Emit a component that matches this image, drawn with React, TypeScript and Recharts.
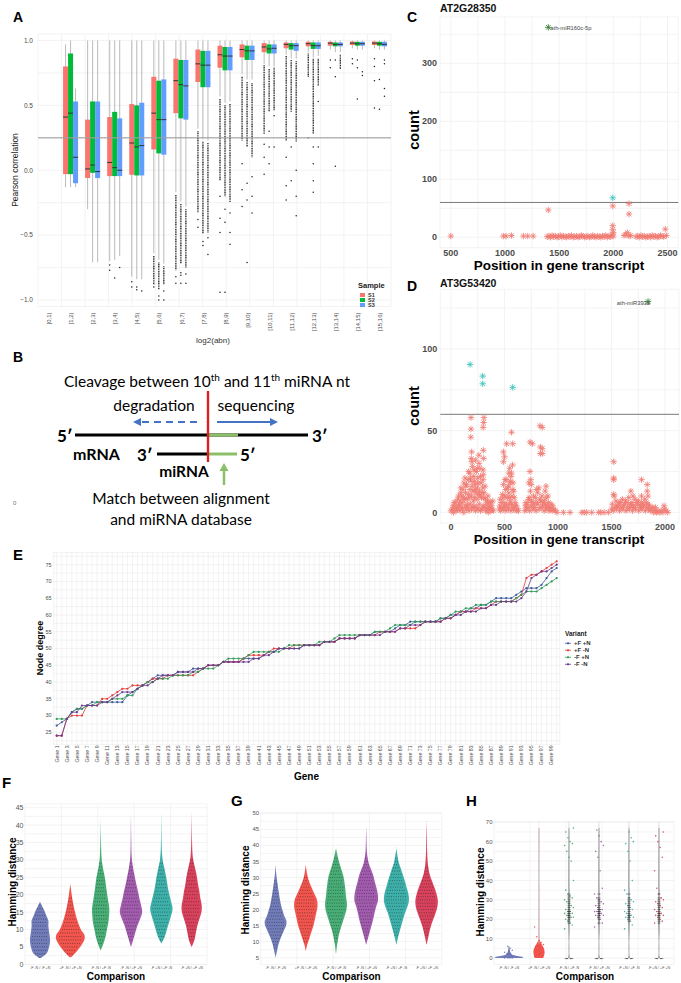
import React from 'react';
import {
  ComposedChart, BarChart, LineChart, ScatterChart,
  Bar, Line, Scatter, XAxis, YAxis, CartesianGrid, ReferenceLine,
} from 'recharts';

const FONT = '"Liberation Sans", Arial, Helvetica, sans-serif';
const DIAG_FONT = 'Lato, "Liberation Sans", Arial, sans-serif';
const GRID = '#ebebeb';
const TICK = '#4d4d4d';

// ================= Panel A data =================
const abnBins = ['[0,1)', '[1,2)', '[2,3)', '[3,4)', '[4,5)', '[5,6)', '[6,7)', '[7,8)', '[8,9)', '[9,10)', '[10,11)', '[11,12)', '[12,13)', '[13,14)', '[14,15)', '[15,16)'];
const sampleNames = ['S1', 'S2', 'S3'];
const sampleColors = ['#F8766D', '#00BA38', '#619CFF'];

const s1Lo = [null, -0.13, -0.30, -0.70, -0.82, -0.64, -0.17, 0.32, 0.57, 0.74, 0.82, 0.89, 0.91, 0.93, 0.94, 0.94];
const s1Q1 = [null, -0.03, -0.06, -0.045, -0.035, 0.16, 0.44, 0.68, 0.79, 0.87, 0.91, 0.94, 0.955, 0.96, 0.965, 0.965];
const s1Med = [null, 0.41, 0.01, 0.06, 0.21, 0.44, 0.69, 0.82, 0.89, 0.93, 0.95, 0.97, 0.975, 0.98, 0.98, 0.98];
const s1Q3 = [null, 0.80, 0.39, 0.41, 0.51, 0.72, 0.86, 0.93, 0.96, 0.97, 0.98, 0.985, 0.99, 0.99, 0.992, 0.992];
const s1Hi = [null, 0.97, 1, 1, 1, 1, 1, 1, 1, 1, 1, 1, 1, 1, 1, 1];
const s1Dense = [null, null, null, null, null, [-0.66, -0.88], [-0.19, -0.77], [0.30, -0.33], [0.55, -0.08], [0.72, 0.23], [0.81, 0.28], [0.88, 0.23], [0.90, 0.72], null, null, null];
const s1Sparse = [[], [], [], [-0.73, -0.77], [-0.86, -0.9], [-0.9], [-0.82, -0.87], [-0.38, -0.44], [-0.2, -0.37, -0.48, -0.94], [0.05, -0.15, -0.28], [0.2, 0.1, -0.03], [0.1, -0.12, -0.23], [0.25], [0.85, 0.79], [0.86, 0.82], [0.86, 0.8, 0.69, 0.48]];

const s2Lo = [null, -0.13, -0.71, -0.69, -0.84, -0.69, -0.24, 0.24, 0.52, 0.70, 0.80, 0.86, 0.87, 0.91, 0.93, 0.93];
const s2Q1 = [null, -0.03, -0.02, -0.045, -0.04, 0.13, 0.40, 0.64, 0.77, 0.85, 0.90, 0.93, 0.935, 0.955, 0.96, 0.96];
const s2Med = [null, 0.44, 0.04, 0.02, 0.18, 0.39, 0.66, 0.81, 0.88, 0.92, 0.935, 0.96, 0.96, 0.97, 0.975, 0.975];
const s2Q3 = [null, 0.90, 0.53, 0.45, 0.50, 0.69, 0.85, 0.92, 0.95, 0.96, 0.97, 0.98, 0.985, 0.985, 0.99, 0.99];
const s2Hi = [null, 1, 1, 1, 1, 1, 1, 1, 1, 1, 1, 1, 1, 1, 1, 1];
const s2Dense = [null, null, null, null, null, [-0.71, -0.92], [-0.26, -0.72], [0.22, -0.49], [0.50, -0.2], [0.68, 0.18], [0.78, 0.45], [0.85, 0.45], [0.86, 0.28], null, null, null];
const s2Sparse = [[], [], [], [-0.83], [-0.9, -0.92], [-0.97, -1.0], [-0.79, -0.81, -0.87], [-0.55, -0.58], [-0.3, -0.4, -0.94], [-0.1, -0.23, -0.71], [0.3, 0.18, 0.05], [0.18, -0.08], [0.18, 0.05, -0.08, -0.17], [0.85, 0.72, 0.03], [0.85, 0.79, 0.55], [0.7, 0.47]];

const s3Lo = [null, -0.13, -0.71, -0.66, -0.84, -0.72, -0.28, 0.23, 0.53, 0.70, 0.80, 0.86, 0.88, 0.91, 0.93, 0.93];
const s3Q1 = [null, -0.10, -0.06, -0.045, -0.04, 0.12, 0.39, 0.64, 0.77, 0.85, 0.90, 0.92, 0.935, 0.955, 0.96, 0.955];
const s3Med = [null, 0.10, -0.01, 0.0, 0.19, 0.39, 0.65, 0.81, 0.88, 0.92, 0.94, 0.96, 0.96, 0.97, 0.975, 0.97];
const s3Q3 = [null, 0.53, 0.53, 0.40, 0.52, 0.70, 0.85, 0.92, 0.95, 0.96, 0.97, 0.98, 0.985, 0.985, 0.99, 0.99];
const s3Hi = [null, 0.63, 1, 1, 1, 1, 1, 1, 1, 1, 1, 1, 1, 1, 1, 1];
const s3Dense = [null, null, null, null, null, [-0.74, -0.88], [-0.30, -0.75], [0.21, -0.48], [0.51, -0.25], [0.67, 0.10], [0.79, 0.46], [0.84, 0.22], [0.86, 0.65], [0.89, 0.78], null, null];
const s3Sparse = [[], [], [], [-0.75], [-0.93], [-0.93, -1.0], [-0.8, -0.87], [-0.52, -0.65], [-0.33, -0.48, -0.57], [-0.05, -0.2, -0.33], [0.42, 0.18], [0.0, -0.2, -0.35], [0.53, 0.18], [], [0.76, 0.73], [0.85, 0.82, 0.63, 0.57]];

const aYTicks = [-1, -0.75, -0.5, -0.25, 0, 0.25, 0.5, 0.75, 1];
const aYMajor = [-1, -0.5, 0, 0.5, 1];

const statOf = (lo: any[], q1: any[], med: any[], q3: any[], hi: any[], dense: any[], sparse: any[], i: number) =>
  lo[i] == null ? null : { lo: lo[i], q1: q1[i], med: med[i], q3: q3[i], hi: hi[i], dense: dense[i], sparse: sparse[i] };

const aData = abnBins.map((bin, i) => ({
  bin,
  stats: [
    statOf(s1Lo, s1Q1, s1Med, s1Q3, s1Hi, s1Dense, s1Sparse, i),
    statOf(s2Lo, s2Q1, s2Med, s2Q3, s2Hi, s2Dense, s2Sparse, i),
    statOf(s3Lo, s3Q1, s3Med, s3Q3, s3Hi, s3Dense, s3Sparse, i),
  ],
}));

// ================= Panel C data =================
const cPink: number[][] = [
  [500, 2], [985, 2], [1010, 2], [1060, 3], [1170, 2], [1210, 2], [1260, 2],
  [1390, 1], [1405, 2], [1420, 0], [1435, 3], [1450, 1], [1465, 2], [1480, 0], [1495, 1], [1510, 3], [1525, 0],
  [1540, 2], [1555, 1], [1570, 0], [1585, 2], [1600, 1], [1615, 3], [1630, 0], [1645, 1], [1660, 2], [1675, 0],
  [1690, 1], [1705, 3], [1720, 2], [1735, 0], [1750, 1], [1765, 2], [1780, 0], [1795, 1], [1810, 3], [1825, 1],
  [1840, 0], [1855, 2], [1870, 1], [1885, 0], [1900, 2], [1915, 1], [1930, 3], [1945, 0], [1960, 2], [1975, 1],
  [1990, 4], [2000, 2], [2100, 3], [2115, 5], [2130, 8], [2145, 2], [2160, 3], [2210, 1], [2225, 2], [2240, 0],
  [2255, 3], [2270, 1], [2285, 2], [2300, 0], [2315, 1], [2330, 2], [2345, 0], [2360, 3], [2375, 1], [2390, 2],
  [2405, 0], [2420, 1], [2435, 3], [2450, 2], [2465, 1], [2490, 3],
  [1400, 47], [1995, 54], [1995, 20], [1995, 13], [2000, 8], [2145, 58], [2145, 40], [2480, 14],
];
const cCyan: number[][] = [[1995, 68]];
const cGreen: number[][] = [[1400, 362]];
const cGreenLabel = 'ath-miR160c-5p';

// ================= Panel D data =================
const dPink: number[][] = [
  [0, 1], [12, 2], [24, 0], [36, 3], [48, 1], [60, 2], [72, 4], [84, 1], [96, 3], [108, 2], [120, 0], [132, 4],
  [144, 2], [156, 3], [168, 1], [180, 5], [192, 2], [204, 3], [216, 4], [228, 1], [240, 3], [252, 2], [264, 5],
  [276, 1], [288, 2], [300, 4], [312, 3], [324, 1], [336, 2], [348, 0], [360, 3], [372, 1], [384, 2], [396, 1],
  [40, 6], [62, 8], [85, 7], [100, 10], [118, 9], [135, 12], [150, 8], [165, 11], [178, 14], [190, 10], [205, 13],
  [218, 9], [232, 12], [246, 15], [258, 11], [272, 10], [290, 12], [305, 9], [322, 8], [340, 7], [358, 6],
  [92, 15], [120, 18], [140, 16], [160, 20], [175, 24], [188, 19], [200, 28], [212, 22], [225, 17], [238, 25],
  [250, 21], [262, 30], [280, 18], [300, 20], [318, 16],
  [20, 4], [30, 6], [55, 3], [70, 10], [78, 5], [90, 12], [105, 6], [112, 14], [128, 8], [145, 17], [152, 5],
  [170, 9], [182, 21], [196, 16], [208, 7], [220, 19], [228, 14], [244, 8], [254, 18], [266, 13], [276, 22],
  [285, 9], [296, 15], [310, 12], [330, 5], [345, 10], [352, 3], [368, 6], [380, 4], [390, 7], [215, 26],
  [245, 27], [195, 31], [270, 27], [165, 25], [130, 21],
  [187, 58], [187, 51], [185, 46], [193, 37], [190, 33], [308, 58], [305, 55], [300, 52], [302, 38], [305, 33],
  [300, 26], [302, 23], [230, 32], [260, 35],
  [452, 2], [464, 1], [476, 3], [488, 2], [500, 4], [512, 1], [524, 3], [536, 2], [548, 5], [560, 1], [572, 3],
  [584, 2], [596, 4], [608, 1], [620, 2], [630, 1],
  [460, 8], [480, 11], [495, 6], [510, 14], [525, 9], [540, 12], [555, 7], [570, 10], [585, 13], [600, 6],
  [490, 17], [515, 20], [535, 16], [560, 22], [580, 18],
  [456, 4], [470, 6], [485, 9], [505, 10], [518, 5], [530, 15], [545, 9], [552, 18], [566, 5], [578, 14],
  [592, 9], [612, 4], [505, 20], [548, 27],
  [565, 49], [520, 42], [576, 42], [490, 37], [500, 34], [490, 31], [575, 29], [540, 24], [565, 24], [555, 19],
  [690, 1], [705, 2], [720, 3], [735, 1], [750, 4], [765, 2], [780, 3], [795, 1], [810, 5], [825, 2], [840, 3],
  [855, 4], [870, 1], [885, 2], [900, 3], [915, 1], [930, 2], [945, 1], [960, 2], [975, 1], [990, 0],
  [700, 6], [725, 8], [750, 7], [770, 10], [790, 9], [810, 12], [830, 8], [850, 10], [870, 7], [890, 9], [910, 6], [935, 5],
  [695, 4], [712, 5], [730, 9], [742, 13], [758, 6], [775, 5], [800, 6], [820, 15], [840, 7], [860, 6],
  [878, 5], [895, 4], [920, 3], [950, 4], [728, 18], [800, 14],
  [832, 53], [835, 40], [835, 36], [738, 43], [738, 25], [745, 20], [750, 17], [888, 16], [880, 13], [905, 10],
  [760, 42], [853, 52], [853, 39], [853, 36],
  [1050, 0], [1112, 0], [1222, 0], [1245, 0], [1268, 0], [1315, 0], [1380, 0], [1400, 0], [1430, 0], [1470, 0],
  [1500, 2], [1515, 1], [1530, 3], [1545, 2], [1560, 4], [1575, 1], [1590, 3], [1605, 2], [1620, 5], [1635, 1],
  [1650, 3], [1665, 2], [1680, 4], [1695, 1], [1710, 3], [1725, 2], [1740, 5], [1755, 1], [1770, 3], [1785, 2],
  [1800, 4], [1815, 1], [1830, 3], [1845, 2], [1860, 1], [1875, 2], [1890, 0], [1905, 1], [1920, 0], [1935, 1],
  [1950, 0], [1965, 1], [1980, 0], [1995, 2], [2010, 1], [2025, 0],
  [1540, 7], [1570, 6], [1600, 8], [1630, 7], [1660, 9], [1690, 6], [1720, 8], [1750, 7], [1780, 6], [1810, 8], [1840, 5],
  [1508, 5], [1552, 4], [1582, 6], [1612, 4], [1645, 6], [1675, 5], [1705, 4], [1735, 6], [1765, 4], [1795, 5],
  [1825, 6], [1855, 4], [1885, 3], [1910, 3], [1990, 4],
  [1520, 31], [1520, 21], [1520, 20], [1520, 11], [1525, 10], [1780, 20], [1833, 17], [1833, 13], [1840, 10],
  [1680, 13], [1700, 10], [1780, 10],
];
const dCyan: number[][] = [[178, 90.5], [296, 83.4], [296, 78.7], [576, 76.5]];
const dGreen: number[][] = [[1841, 129]];
const dGreenLabel = 'ath-miR393a';

// ================= Panel E data =================
const variantNames = ['+F +N', '+F -N', '-F +N', '-F -N'];
const variantColors = ['#3d5b9c', '#e5393a', '#2f9a58', '#6a3a8e'];
const eFpNp = [27, 28, 29, 31, 32, 32, 33, 34, 34, 34, 34, 34, 34, 34, 36, 37, 38, 39, 40, 41, 42, 42, 42, 42, 43, 43, 43, 44, 44, 44, 45, 45, 45, 46, 46, 46, 46, 47, 47, 47, 47, 48, 49, 49, 50, 50, 50, 50, 50, 51, 51, 51, 51, 52, 52, 52, 53, 53, 53, 53, 54, 54, 54, 55, 55, 55, 55, 56, 57, 57, 58, 58, 58, 58, 58, 58, 59, 59, 60, 60, 61, 61, 62, 62, 63, 63, 64, 65, 65, 65, 65, 66, 67, 68, 68, 68, 69, 71, 73, 74];
const eFpNm = [24, 24, 29, 30, 30, 30, 33, 33, 33, 35, 35, 36, 37, 38, 38, 39, 39, 39, 40, 41, 41, 41, 42, 42, 42, 42, 42, 42, 43, 44, 45, 45, 45, 46, 46, 46, 46, 47, 48, 48, 48, 48, 49, 50, 50, 50, 50, 51, 51, 51, 51, 51, 51, 52, 52, 52, 53, 53, 53, 53, 54, 54, 54, 54, 55, 55, 55, 55, 56, 56, 56, 56, 57, 58, 58, 58, 58, 59, 59, 60, 61, 61, 61, 62, 62, 62, 63, 64, 64, 64, 64, 65, 66, 71, 72, 72, 73, 74, 75, 76];
const eFmNp = [29, 29, 29, 31, 32, 32, 33, 33, 34, 34, 34, 35, 35, 35, 36, 36, 38, 39, 40, 40, 41, 41, 41, 42, 42, 42, 42, 43, 43, 44, 44, 44, 45, 46, 47, 47, 47, 47, 48, 49, 49, 49, 49, 49, 49, 50, 51, 51, 51, 51, 51, 51, 52, 52, 52, 53, 54, 54, 54, 54, 54, 54, 54, 55, 55, 55, 56, 57, 57, 57, 57, 58, 58, 58, 58, 58, 59, 59, 60, 61, 61, 62, 62, 63, 63, 63, 64, 64, 64, 64, 64, 65, 66, 67, 67, 67, 68, 69, 70, 71];
const eFmNm = [24, 24, 29, 31, 31, 33, 33, 33, 33, 34, 34, 35, 36, 37, 37, 37, 38, 39, 39, 40, 41, 42, 42, 42, 43, 43, 43, 43, 44, 44, 45, 45, 45, 46, 46, 46, 46, 46, 46, 47, 47, 48, 48, 49, 50, 50, 50, 50, 50, 51, 51, 51, 51, 52, 52, 52, 53, 53, 53, 53, 54, 54, 54, 54, 54, 55, 55, 55, 56, 56, 57, 57, 57, 58, 58, 58, 58, 59, 59, 60, 60, 61, 61, 61, 62, 62, 63, 63, 64, 64, 64, 64, 65, 67, 71, 72, 73, 73, 74, 75];
const geneNames = eFpNp.map((_, i) => 'Gene ' + (i + 1));
const eData = geneNames.map((gene, i) => ({ gene, a: eFpNp[i], b: eFpNm[i], c: eFmNp[i], d: eFmNm[i] }));
const eKeys = ['a', 'b', 'c', 'd'];
const eYTicks = [22.5, 25, 27.5, 30, 32.5, 35, 37.5, 40, 42.5, 45, 47.5, 50, 52.5, 55, 57.5, 60, 62.5, 65, 67.5, 70, 72.5, 75, 77.5];

// ================= Panels F, G, H data =================
const comparisons = ['-F -N / -F +N', '+F -N / +F +N', '-F -N / +F -N', '-F -N / +F +N', '-F +N / +F -N', '-F +N / +F +N'];
const violinColors = ['#6571b3', '#f0463f', '#38a76a', '#9a4ea7', '#2ea9a3', '#d6324e'];

const fMin = [1.8, 2, 4, 5, 6, 5];
const fMax = [18, 23, 42, 44, 44, 44];
const fDens = [
  [[1.8, 0.05], [3, 0.45], [5, 0.65], [7, 0.72], [9, 0.66], [11, 0.6], [12.5, 0.6], [14, 0.45], [15.5, 0.3], [17, 0.12], [18, 0]],
  [[2, 0.05], [3, 0.3], [5, 0.7], [7, 1.0], [8.5, 1.0], [10, 0.75], [12, 0.55], [14, 0.4], [16, 0.28], [18, 0.18], [20, 0.1], [23, 0]],
  [[4, 0], [6, 0.2], [8, 0.35], [10, 0.45], [12, 0.55], [14, 0.6], [16, 0.62], [18, 0.55], [20, 0.47], [22, 0.4], [25, 0.3], [28, 0.15], [31, 0.06], [36, 0.02], [42, 0]],
  [[5, 0], [7, 0.15], [9, 0.3], [11, 0.45], [13, 0.65], [15, 0.8], [17, 0.72], [19, 0.6], [21, 0.5], [23, 0.38], [25, 0.28], [28, 0.14], [31, 0.05], [36, 0.02], [44, 0]],
  [[6, 0], [8, 0.25], [10, 0.4], [12, 0.55], [14, 0.7], [16, 0.8], [18, 0.7], [20, 0.58], [22, 0.47], [25, 0.35], [28, 0.2], [30, 0.1], [34, 0.03], [44, 0]],
  [[5, 0], [7, 0.2], [9, 0.3], [11, 0.4], [13, 0.55], [15, 0.7], [17, 0.72], [19, 0.62], [21, 0.55], [23, 0.45], [25, 0.38], [27, 0.28], [29, 0.17], [31, 0.08], [35, 0.03], [44, 0]],
];

const gMin = [5, 7, 6, 9, 9, 9];
const gMax = [34, 34, 39, 46, 39, 48];
const gDens = [
  [[5, 0], [7, 0.1], [9, 0.2], [11, 0.35], [13, 0.55], [15, 0.75], [16.5, 0.77], [18, 0.62], [20, 0.48], [22, 0.36], [25, 0.24], [28, 0.14], [31, 0.05], [34, 0]],
  [[7, 0], [9, 0.1], [11, 0.25], [13, 0.4], [15, 0.55], [17, 0.65], [19, 0.75], [21, 0.84], [23, 0.8], [25, 0.6], [27, 0.4], [29, 0.22], [31, 0.1], [34, 0]],
  [[6, 0], [9, 0.08], [12, 0.2], [15, 0.4], [18, 0.62], [20, 0.75], [22, 0.78], [24, 0.72], [27, 0.65], [30, 0.55], [32, 0.42], [34, 0.28], [36, 0.15], [39, 0]],
  [[9, 0], [11, 0.12], [13, 0.25], [15, 0.38], [17, 0.5], [19, 0.6], [21, 0.72], [23, 0.85], [25, 0.82], [27, 0.72], [29, 0.6], [31, 0.48], [33, 0.3], [35, 0.15], [38, 0.05], [42, 0.02], [46, 0]],
  [[9, 0], [11, 0.1], [13, 0.22], [15, 0.35], [17, 0.48], [19, 0.62], [21, 0.8], [23, 0.9], [25, 0.85], [27, 0.72], [29, 0.6], [31, 0.45], [33, 0.3], [35, 0.15], [39, 0]],
  [[9, 0], [11, 0.1], [13, 0.2], [15, 0.32], [17, 0.48], [19, 0.65], [21, 0.78], [23, 0.8], [25, 0.7], [27, 0.55], [29, 0.38], [31, 0.22], [34, 0.1], [38, 0.04], [43, 0.02], [48, 0]],
];

const hMin = [0, 0, 0, 0, 0, 0];
const hMax = [6, 67, 67, 67, 67, 67];
const hDens = [
  [[0, 0.95], [0.5, 1.0], [1, 0.6], [1.5, 0.3], [2, 0.2], [3, 0.1], [4, 0.06], [6, 0]],
  [[0, 0.3], [1, 0.35], [3, 0.4], [5, 0.35], [7, 0.2], [9, 0.06], [12, 0.01], [67, 0.005]],
  [[0, 0.35], [0.6, 0.02], [15, 0.02], [20, 0.04], [25, 0.04], [30, 0.03], [35, 0.02], [67, 0.01]],
  [[0, 0.35], [0.6, 0.02], [15, 0.02], [20, 0.04], [25, 0.04], [30, 0.03], [35, 0.02], [67, 0.01]],
  [[0, 0.35], [0.6, 0.02], [15, 0.02], [20, 0.04], [25, 0.04], [30, 0.03], [35, 0.02], [67, 0.01]],
  [[0, 0.35], [0.6, 0.02], [15, 0.02], [20, 0.04], [25, 0.04], [30, 0.03], [35, 0.02], [67, 0.01]],
];
const hPts = [
  [0, 0, 0, 0, 1, 1, 1, 2, 2, 3, 4, 5, 6],
  [1, 1, 2, 2, 3, 3, 3, 4, 4, 4, 5, 5, 6, 6, 7, 8, 9, 11, 16],
  [15, 17, 18, 19, 20, 21, 21, 22, 22, 23, 23, 24, 24, 25, 26, 27, 28, 29, 30, 31, 32, 33, 35, 40, 50, 52, 55, 58, 59, 60, 62, 65, 67],
  [16, 18, 20, 21, 22, 22, 23, 23, 24, 24, 25, 25, 26, 27, 28, 29, 30, 31, 33, 36, 45, 52, 55, 58, 60, 63, 66],
  [15, 17, 19, 20, 21, 21, 22, 22, 23, 24, 25, 26, 27, 28, 29, 30, 31, 33, 35, 40, 50, 55, 59, 60, 62, 65],
  [18, 19, 20, 21, 22, 22, 23, 23, 24, 25, 26, 27, 28, 29, 30, 31, 33, 36, 45, 52, 57, 60, 63, 65],
];

const mkViolinData = (mins: number[], maxs: number[], dens: number[][][], pts?: number[][]) =>
  comparisons.map((name, i) => ({ name, min: mins[i], max: maxs[i], dens: dens[i], pts: pts ? pts[i] : [] }));
const fData = mkViolinData(fMin, fMax, fDens);
const gData = mkViolinData(gMin, gMax, gDens);
const hData = mkViolinData(hMin, hMax, hDens, hPts);

const range = (a: number, b: number, s: number) => { const r: number[] = []; for (let v = a; v <= b + 1e-9; v += s) r.push(Math.round(v * 100) / 100); return r; };
const idxTicks = (n: number) => range(0, n - 1, 1);

// ================= helpers =================
const yTick = (fmt: (v: number) => string | null, size: number, bold = false, fill = TICK) => (p: any) => {
  const label = fmt(p.payload.value);
  if (label == null) return <g />;
  return (
    <text x={p.x} y={p.y} dy="0.35em" textAnchor="end" fontSize={size} fontWeight={bold ? 'bold' : 'normal'} fill={fill} fontFamily={FONT}>
      {label}
    </text>
  );
};
const xTick = (fmt: (v: any) => string | null, size: number, bold = false, fill = TICK) => (p: any) => {
  const label = fmt(p.payload.value);
  if (label == null) return <g />;
  return (
    <text x={p.x} y={p.y} dy="0.71em" textAnchor="middle" fontSize={size} fontWeight={bold ? 'bold' : 'normal'} fill={fill} fontFamily={FONT}>
      {label}
    </text>
  );
};
const rotTick = (size: number, fill: string, every = 1) => (p: any) => {
  if (p.index % every !== 0) return <g />;
  return (
    <text x={p.x} y={p.y} transform={`rotate(-90 ${p.x} ${p.y})`} textAnchor="end" dy="0.35em" fontSize={size} fill={fill} fontFamily={FONT}>
      {p.payload.value}
    </text>
  );
};

function crPath(pts: number[][]): string {
  if (pts.length < 2) return '';
  let d = `M${pts[0][0]},${pts[0][1]}`;
  for (let i = 0; i < pts.length - 1; i++) {
    const p0 = pts[i - 1] || pts[i];
    const p1 = pts[i];
    const p2 = pts[i + 1];
    const p3 = pts[i + 2] || p2;
    const c1x = p1[0] + (p2[0] - p0[0]) / 6, c1y = p1[1] + (p2[1] - p0[1]) / 6;
    const c2x = p2[0] - (p3[0] - p1[0]) / 6, c2y = p2[1] - (p3[1] - p1[1]) / 6;
    d += ` C${c1x},${c1y} ${c2x},${c2y} ${p2[0]},${p2[1]}`;
  }
  return d;
}
const interpF = (dens: number[][], v: number) => {
  for (let i = 0; i < dens.length - 1; i++) {
    const [v0, f0] = dens[i], [v1, f1] = dens[i + 1];
    if (v >= v0 && v <= v1) return f0 + ((v - v0) / (v1 - v0 || 1)) * (f1 - f0);
  }
  return 0;
};

// box-plot shape (range bar = whisker extent)
const boxShape = (si: number) => (props: any) => {
  const { x, y, width, height, payload } = props;
  const st = payload && payload.stats ? payload.stats[si] : null;
  if (!st || !isFinite(y) || !isFinite(height)) return <g />;
  const top = Math.min(y, y + height);
  const h = Math.abs(height);
  const span = st.hi - st.lo;
  if (span <= 0) return <g />;
  const py = (v: number) => top + ((st.hi - v) / span) * h;
  const cx = x + width / 2;
  return (
    <g>
      <line x1={cx} x2={cx} y1={py(st.hi)} y2={py(st.lo)} stroke="#9c9c9c" strokeWidth={0.7} />
      {st.dense ? (
        <line x1={cx} x2={cx} y1={py(st.dense[0])} y2={py(st.dense[1])} stroke="#1e1e1e" strokeWidth={1.3} strokeDasharray="1.1 0.6" />
      ) : null}
      {st.sparse.map((v: number, k: number) => (
        <circle key={k} cx={cx} cy={py(v)} r={0.75} fill="#1e1e1e" />
      ))}
      <rect x={x} y={py(st.q3)} width={width} height={Math.max(0.8, py(st.q1) - py(st.q3))} fill={sampleColors[si]} />
      <line x1={x} x2={x + width} y1={py(st.med)} y2={py(st.med)} stroke="#333" strokeWidth={1} />
    </g>
  );
};

// violin shape (range bar = violin extent)
const violinShape = (mode: 'tex' | 'pts') => (props: any) => {
  const { x, y, width, height, payload, index } = props;
  if (!payload || !isFinite(y) || !isFinite(height)) return <g />;
  const top = Math.min(y, y + height);
  const h = Math.abs(height);
  const { min, max, dens, pts } = payload;
  const py = (v: number) => top + ((max - v) / (max - min)) * h;
  const cx = x + width / 2;
  const hw = width / 2;
  const color = violinColors[index % violinColors.length];
  const right = dens.map((d: number[]) => [cx + d[1] * hw, py(d[0])]);
  const left = dens.map((d: number[]) => [cx - d[1] * hw, py(d[0])]).reverse();
  const path = crPath([...right, ...left]) + ' Z';
  const tex: any[] = [];
  if (mode === 'tex') {
    for (let k = Math.ceil(min); k <= Math.floor(max); k++) {
      const w = interpF(dens, k) * hw * 0.8;
      if (w > 1.2) tex.push(<line key={k} x1={cx - w} x2={cx + w} y1={py(k)} y2={py(k)} stroke="#151515" strokeWidth={0.9} strokeDasharray="0.8 1.5" opacity={0.6} />);
    }
  }
  const dots = mode === 'pts'
    ? (pts || []).map((v: number, k: number) => (
      <circle key={k} cx={cx + (((k * 7) % 9) - 4) * 1.1} cy={py(v)} r={0.8} fill={color} opacity={0.85} />
    ))
    : null;
  const thin = mode === 'pts' && index > 1;
  return (
    <g>
      {mode === 'pts' ? <line x1={cx} x2={cx} y1={py(min)} y2={py(max)} stroke="#b5b5b5" strokeWidth={1} /> : null}
      <path d={path} fill={thin ? '#555' : color} fillOpacity={0.92} stroke="none" />
      {tex}
      {dots}
      {mode === 'pts' ? (
        <g>
          {(pts || []).filter((v: number) => v >= 18 && v <= 33).map((v: number, k: number) => (
            <line key={'m' + k} x1={cx - 1.5} x2={cx + 1.5} y1={py(v)} y2={py(v)} stroke="#333" strokeWidth={0.6} />
          ))}
        </g>
      ) : null}
    </g>
  );
};

// asterisk marker for scatter
const starShape = (color: string, r = 3.2, label?: string, labelSide: 'right' | 'left' = 'right') => (p: any) => {
  const { cx, cy } = p;
  if (!isFinite(cx) || !isFinite(cy)) return <g />;
  const d = r * 0.72;
  return (
    <g>
      <path
        d={`M${cx - r},${cy} L${cx + r},${cy} M${cx},${cy - r} L${cx},${cy + r} M${cx - d},${cy - d} L${cx + d},${cy + d} M${cx - d},${cy + d} L${cx + d},${cy - d}`}
        stroke={color} strokeWidth={0.85} fill="none"
      />
      {label ? (
        <text x={cx + 2} y={cy + 3} textAnchor={labelSide === 'right' ? 'start' : 'end'} fontSize={5.8} fill="#444" fontFamily={FONT}>
          {label}
        </text>
      ) : null}
    </g>
  );
};

const toXY = (arr: number[][]) => arr.map(([x, y]) => ({ x, y }));

// ================= panels =================
function PanelA() {
  const n = abnBins.length;
  return (
    <ComposedChart width={400} height={345} data={aData} margin={{ top: 34, right: 9, left: 8, bottom: 8.5 }} barGap={0} barCategoryGap={3}>
      <XAxis xAxisId="grid" type="number" domain={[-0.5, n - 0.5]} ticks={idxTicks(n)} hide />
      <CartesianGrid xAxisId="grid" stroke={GRID} strokeWidth={0.6} />
      <XAxis dataKey="bin" interval={0} tickSize={0} tickMargin={6} height={30} axisLine={false} tickLine={false} tick={rotTick(6, TICK)} />
      <YAxis type="number" domain={[-1.05, 1.05]} allowDataOverflow ticks={aYTicks} interval={0} width={30} tickSize={0} tickMargin={5} axisLine={false} tickLine={false}
        tick={yTick((v) => (aYMajor.includes(v) ? (v < 0 ? '\u2212' : '') + Math.abs(v).toFixed(1) : null), 6.5)} />
      {sampleNames.map((s, si) => (
        <Bar key={s} dataKey={(d: any) => (d.stats[si] ? [d.stats[si].lo, d.stats[si].hi] : null)} shape={boxShape(si)} isAnimationActive={false} />
      ))}
      <ReferenceLine y={0.25} stroke="#a0a0a0" strokeOpacity={0.75} strokeWidth={1.4} />
    </ComposedChart>
  );
}

function PanelC() {
  return (
    <ScatterChart width={281} height={280} margin={{ top: 16.9, right: 2.7, left: 0, bottom: 12.3 }}>
      <CartesianGrid stroke={GRID} strokeWidth={0.6} />
      <XAxis type="number" dataKey="x" domain={[400, 2600]} allowDataOverflow ticks={range(500, 2500, 250)} interval={0} tickSize={0} tickMargin={1.5} height={20} axisLine={false} tickLine={false}
        tick={xTick((v) => (v % 500 === 0 ? String(v) : null), 9, true)} />
      <YAxis type="number" dataKey="y" domain={[-18, 380]} allowDataOverflow ticks={range(0, 350, 50)} interval={0} width={40} tickSize={0} tickMargin={3} axisLine={false} tickLine={false}
        tick={yTick((v) => (v % 100 === 0 ? String(v) : null), 9, true)} />
      <ReferenceLine y={60} stroke="#7a7a7a" strokeWidth={1} />
      <Scatter data={toXY(cPink)} shape={starShape('#F07C74')} isAnimationActive={false} />
      <Scatter data={toXY(cCyan)} shape={starShape('#3cc3bd')} isAnimationActive={false} />
      <Scatter data={toXY(cGreen)} shape={starShape('#2f7d32', 3.2, cGreenLabel, 'right')} isAnimationActive={false} />
    </ScatterChart>
  );
}

function PanelD() {
  return (
    <ScatterChart width={281} height={270} margin={{ top: 14.3, right: 2, left: 0.3, bottom: 6 }}>
      <CartesianGrid stroke={GRID} strokeWidth={0.6} />
      <XAxis type="number" dataKey="x" domain={[-100, 2130]} allowDataOverflow ticks={range(0, 2000, 250)} interval={0} tickSize={0} tickMargin={1} height={16} axisLine={false} tickLine={false}
        tick={xTick((v) => (v % 500 === 0 ? String(v) : null), 9, true)} />
      <YAxis type="number" dataKey="y" domain={[-6.5, 136.5]} allowDataOverflow ticks={range(0, 125, 25)} interval={0} width={40} tickSize={0} tickMargin={3} axisLine={false} tickLine={false}
        tick={yTick((v) => (v % 50 === 0 ? String(v) : null), 9, true)} />
      <ReferenceLine y={60} stroke="#7a7a7a" strokeWidth={1} />
      <Scatter data={toXY(dPink)} shape={starShape('#F07C74')} isAnimationActive={false} />
      <Scatter data={toXY(dCyan)} shape={starShape('#3cc3bd')} isAnimationActive={false} />
      <Scatter data={toXY(dGreen)} shape={starShape('#2f7d32', 3.2, dGreenLabel, 'left')} isAnimationActive={false} />
    </ScatterChart>
  );
}

function PanelE() {
  return (
    <LineChart width={681} height={240} data={eData} margin={{ top: 12.6, right: 121.3, left: 3.7, bottom: 5.6 }}>
      <CartesianGrid stroke={GRID} strokeWidth={0.6} />
      <XAxis dataKey="gene" interval={0} padding={{ left: 3, right: 3 }} tickSize={0} tickMargin={1} height={30} axisLine={false} tickLine={false} tick={rotTick(5.2, TICK, 2)} />
      <YAxis type="number" domain={[21.4, 78.6]} allowDataOverflow ticks={eYTicks} interval={0} width={50} tickSize={0} tickMargin={2} axisLine={false} tickLine={false}
        tick={yTick((v) => (v % 5 === 0 ? String(v) : null), 5.5)} />
      {eKeys.map((k, i) => (
        <Line key={k} type="linear" dataKey={k} stroke={variantColors[i]} strokeWidth={0.8}
          dot={{ r: 1.1, fill: variantColors[i], stroke: variantColors[i], strokeWidth: 0 }} isAnimationActive={false} />
      ))}
    </LineChart>
  );
}

function ViolinPanel(props: { data: any[]; width: number; margin: any; yWidth: number; domain: number[]; ticks: number[]; major: number; mode: 'tex' | 'pts'; tickSize: number }) {
  const { data, width, margin, yWidth, domain, ticks, major, mode, tickSize } = props;
  const n = data.length;
  return (
    <BarChart width={width} height={188} data={data} margin={margin} barCategoryGap={1}>
      <XAxis xAxisId="grid" type="number" domain={[-0.5, n - 0.5]} ticks={idxTicks(n)} hide />
      <CartesianGrid xAxisId="grid" stroke={GRID} strokeWidth={0.6} />
      <XAxis dataKey="name" interval={0} tickSize={0} tickMargin={1.5} height={12} axisLine={false} tickLine={false} tick={xTick((v) => String(v), 3.6)} />
      <YAxis type="number" domain={domain} allowDataOverflow ticks={ticks} interval={0} width={yWidth} tickSize={0} tickMargin={1.5} axisLine={false} tickLine={false}
        tick={yTick((v) => (v % major === 0 ? String(v) : null), tickSize, false, '#555')} />
      <Bar dataKey={(d: any) => [d.min, d.max]} shape={violinShape(mode)} isAnimationActive={false} />
    </BarChart>
  );
}

// ================= overlay (titles, legends, diagram B) =================
function Overlay() {
  const bold = { fontFamily: FONT, fontWeight: 'bold' as const };
  const hd = { fontFamily: DIAG_FONT };
  const blue = '#4472c4';
  const green = '#8cc068';
  return (
    <svg width={681} height={983} style={{ position: 'absolute', left: 0, top: 0, pointerEvents: 'none' }}>
      {/* Panel A */}
      <text x={13} y={22} fontSize={14} {...bold} fill="#000">A</text>
      <text x={18} y={170} transform="rotate(-90 18 170)" textAnchor="middle" fontSize={8.5} fontFamily={FONT} fill="#1a1a1a">Pearson correlation</text>
      <text x={213} y={343} textAnchor="middle" fontSize={8} fontFamily={FONT} fill="#333">log2(abn)</text>
      <text x={358} y={288} fontSize={7.5} {...bold} fill="#1a1a1a">Sample</text>
      {sampleNames.map((s, i) => (
        <g key={s}>
          <rect x={360} y={293 + i * 5} width={5} height={4} fill={sampleColors[i]} />
          <text x={368} y={297 + i * 5} fontSize={5.5} {...bold} fill="#333">{s}</text>
        </g>
      ))}

      {/* Panel B diagram */}
      <text x={13} y={362} fontSize={14} {...bold} fill="#000">B</text>
      <text x={207} y={387} textAnchor="middle" fontSize={15.5} {...hd} fill="#000">
        Cleavage between 10<tspan dy={-6} fontSize={10}>th</tspan><tspan dy={6}> and 11</tspan><tspan dy={-6} fontSize={10}>th</tspan><tspan dy={6}> miRNA nt</tspan>
      </text>
      <text x={154} y={411} textAnchor="middle" fontSize={15.5} {...hd} fill="#000">degradation</text>
      <text x={256} y={411} textAnchor="middle" fontSize={15.5} {...hd} fill="#000">sequencing</text>
      <line x1={197} x2={140} y1={422} y2={422} stroke={blue} strokeWidth={2} strokeDasharray="7 5" />
      <polygon points="133,422 141,418 141,426" fill={blue} />
      <line x1={217} x2={271} y1={422} y2={422} stroke={blue} strokeWidth={2} />
      <polygon points="278,422 270,418 270,426" fill={blue} />
      <text x={57} y={442} fontSize={17} {...hd} fontWeight="bold" fill="#000">5′</text>
      <line x1={75} x2={308} y1={435} y2={435} stroke="#000" strokeWidth={3} />
      <line x1={208} x2={238} y1={435} y2={435} stroke={green} strokeWidth={3} />
      <text x={312} y={442} fontSize={17} {...hd} fontWeight="bold" fill="#000">3′</text>
      <text x={73} y={460} fontSize={16} {...hd} fontWeight="bold" fill="#000">mRNA</text>
      <text x={137} y={461} fontSize={17} {...hd} fontWeight="bold" fill="#000">3′</text>
      <line x1={157} x2={208} y1={454} y2={454} stroke="#000" strokeWidth={3} />
      <line x1={208} x2={237} y1={454} y2={454} stroke={green} strokeWidth={3} />
      <text x={240} y={461} fontSize={17} {...hd} fontWeight="bold" fill="#000">5′</text>
      <line x1={208} x2={208} y1={391} y2={462} stroke="#e02020" strokeWidth={2.4} />
      <text x={184} y={477} textAnchor="middle" fontSize={15.5} {...hd} fontWeight="bold" fill="#000">miRNA</text>
      <line x1={224} x2={224} y1={485} y2={470} stroke={green} strokeWidth={2.5} />
      <polygon points="224,463 219.5,471 228.5,471" fill={green} />
      <text x={181} y={504} textAnchor="middle" fontSize={15.5} {...hd} fill="#000">Match between alignment</text>
      <text x={181} y={525} textAnchor="middle" fontSize={15.5} {...hd} fill="#000">and miRNA database</text>
      <text x={13} y={505} fontSize={6} fontFamily={FONT} fill="#777">0</text>

      {/* Panel C */}
      <text x={407} y={22} fontSize={14} {...bold} fill="#000">C</text>
      <text x={440} y={12} fontSize={10.5} {...bold} fill="#111">AT2G28350</text>
      <text x={419} y={130} transform="rotate(-90 419 130)" textAnchor="middle" fontSize={14.5} {...bold} fill="#000">count</text>
      <text x={559} y={270} textAnchor="middle" fontSize={13.5} {...bold} fill="#000">Position in gene transcript</text>

      {/* Panel D */}
      <text x={407} y={291} fontSize={14} {...bold} fill="#000">D</text>
      <text x={440} y={287} fontSize={10.5} {...bold} fill="#111">AT3G53420</text>
      <text x={419} y={406} transform="rotate(-90 419 406)" textAnchor="middle" fontSize={14.5} {...bold} fill="#000">count</text>
      <text x={559} y={544} textAnchor="middle" fontSize={13.5} {...bold} fill="#000">Position in gene transcript</text>

      {/* Panel E */}
      <text x={13} y={560} fontSize={15} {...bold} fill="#000">E</text>
      <text x={42.5} y={648} transform="rotate(-90 42.5 648)" textAnchor="middle" fontSize={9} {...bold} fill="#000">Node degree</text>
      <text x={306.5} y={780} textAnchor="middle" fontSize={10} {...bold} fill="#000">Gene</text>
      <text x={565} y={636} fontSize={6.5} {...bold} fill="#1a1a1a">Variant</text>
      {variantNames.map((v, i) => (
        <g key={v}>
          <line x1={565} x2={571} y1={643.3 + i * 7} y2={643.3 + i * 7} stroke={variantColors[i]} strokeWidth={0.8} />
          <circle cx={568} cy={643.3 + i * 7} r={1.1} fill={variantColors[i]} />
          <text x={574} y={645.3 + i * 7} fontSize={6} {...bold} fill="#333">{v}</text>
        </g>
      ))}

      {/* Panel F */}
      <text x={2} y={788} fontSize={15} {...bold} fill="#000">F</text>
      <text x={15.6} y={882} transform="rotate(-90 15.6 882)" textAnchor="middle" fontSize={10} {...bold} fill="#000">Hamming distance</text>
      <text x={116} y={980} textAnchor="middle" fontSize={10} {...bold} fill="#000">Comparison</text>
      {/* Panel G */}
      <text x={231} y={806} fontSize={15} {...bold} fill="#000">G</text>
      <text x={248.5} y={890} transform="rotate(-90 248.5 890)" textAnchor="middle" fontSize={10} {...bold} fill="#000">Hamming distance</text>
      <text x={351.5} y={980} textAnchor="middle" fontSize={10} {...bold} fill="#000">Comparison</text>
      {/* Panel H */}
      <text x={466} y={806} fontSize={15} {...bold} fill="#000">H</text>
      <text x={483.5} y={892} transform="rotate(-90 483.5 892)" textAnchor="middle" fontSize={10} {...bold} fill="#000">Hamming distance</text>
      <text x={585} y={980} textAnchor="middle" fontSize={10} {...bold} fill="#000">Comparison</text>
    </svg>
  );
}

export default function App() {
  const abs = (left: number, top: number) => ({ position: 'absolute' as const, left, top });
  return (
    <div style={{ position: 'absolute', left: 0, top: 0, width: 681, height: 983, background: '#fff', overflow: 'hidden', fontFamily: FONT }}>
      <div style={abs(0, 0)}><PanelA /></div>
      <div style={abs(400, 0)}><PanelC /></div>
      <div style={abs(400, 275)}><PanelD /></div>
      <div style={abs(0, 540)}><PanelE /></div>
      <div style={abs(0, 795)}>
        <ViolinPanel data={fData} width={225} margin={{ top: 8.9, right: 18, left: 5, bottom: 6.35 }} yWidth={20}
          domain={[-0.1, 46.1]} ticks={range(0, 45, 2.5)} major={5} mode="tex" tickSize={7} />
      </div>
      <div style={abs(225, 795)}>
        <ViolinPanel data={gData} width={230} margin={{ top: 17.8, right: 13.2, left: 5.6, bottom: 6.4 }} yWidth={30}
          domain={[2.85, 50.15]} ticks={range(5, 50, 2.5)} major={5} mode="tex" tickSize={6} />
      </div>
      <div style={abs(455, 795)}>
        <ViolinPanel data={hData} width={226} margin={{ top: 26.6, right: 7, left: 6, bottom: 6.5 }} yWidth={33}
          domain={[-3.35, 70.35]} ticks={range(0, 70, 5)} major={10} mode="pts" tickSize={6} />
      </div>
      <Overlay />
    </div>
  );
}
